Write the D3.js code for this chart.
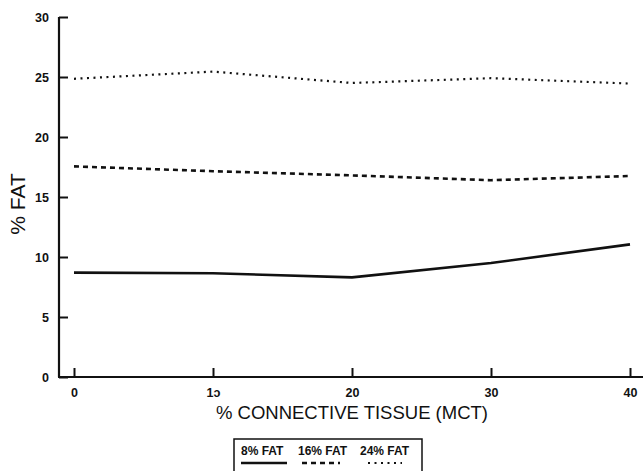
<!DOCTYPE html>
<html>
<head>
<meta charset="utf-8">
<script src="https://cdn.jsdelivr.net/npm/d3@7"></script>
<style>
  html, body { margin: 0; padding: 0; background: #fff; }
  svg { display: block; }
  text { font-family: "Liberation Sans", Arial, Helvetica, sans-serif; fill: #111; }
</style>
</head>
<body>
<svg id="chart" width="643" height="471"></svg>
<script>
// Connective tissue content (%) on the x axis
const connectiveTissue = [0, 10, 20, 30, 40];

// Measured % fat for each formulation
const fat8 = [8.7, 8.65, 8.3, 9.5, 11.05];
const fat16 = [17.55, 17.15, 16.8, 16.4, 16.75];
const fat24 = [24.85, 25.45, 24.5, 24.9, 24.45];

const xTicks = [0, 10, 20, 30, 40];
const xTickLabels = ["0", "1\u0254", "20", "30", "40"];
const yTicks = [0, 5, 10, 15, 20, 25, 30];

const seriesNames = ["8% FAT", "16% FAT", "24% FAT"];

const svg = d3.select("#chart");
const ink = "#111";

const x = d3.scaleLinear().domain([0, 40]).range([74, 630]);
const y = d3.scaleLinear().domain([0, 30]).range([377, 17]);

// Y axis: vertical rule with inward ticks
const yAxis = d3.axisRight(y)
  .tickValues(yTicks)
  .tickSize(9)
  .tickSizeOuter(0);
const gy = svg.append("g").attr("transform", "translate(59,0)").call(yAxis);
gy.select(".domain").attr("stroke", ink).attr("stroke-width", 2.2).attr("d", `M0,${y(30)}V${y(0)}`);
gy.selectAll(".tick line").attr("stroke", ink).attr("stroke-width", 2);
gy.selectAll(".tick text")
  .attr("text-anchor", "end")
  .attr("x", -10)
  .style("font-size", "12.5px")
  .style("font-weight", "bold")
  .attr("fill", ink);

// X axis: horizontal rule with upward ticks
const xAxis = d3.axisTop(x)
  .tickValues(xTicks)
  .tickFormat((d, i) => xTickLabels[i])
  .tickSize(9)
  .tickSizeOuter(0);
const gx = svg.append("g").attr("transform", `translate(0,${y(0)})`).call(xAxis);
gx.select(".domain").attr("stroke", ink).attr("stroke-width", 2.2).attr("d", "M58,0H643");
gx.selectAll(".tick line").attr("stroke", ink).attr("stroke-width", 2);
gx.selectAll(".tick text")
  .attr("y", 16)
  .attr("dy", "0.32em")
  .style("font-size", "12.5px")
  .style("font-weight", "bold")
  .attr("fill", ink);

// Axis titles
svg.append("text")
  .attr("transform", "translate(25,204) rotate(-90)")
  .attr("text-anchor", "middle")
  .style("font-size", "21px")
  .text("% FAT");

svg.append("text")
  .attr("x", 352)
  .attr("y", 419)
  .attr("text-anchor", "middle")
  .style("font-size", "18.5px")
  .text("% CONNECTIVE TISSUE (MCT)");

// Series lines
const line = d3.line()
  .x((d, i) => x(connectiveTissue[i]))
  .y(d => y(d));

const styles = [
  { data: fat8, dash: null, width: 2.6 },
  { data: fat16, dash: "5,4", width: 2.6 },
  { data: fat24, dash: "2,4.5", width: 2.2 }
];

svg.append("g").selectAll("path")
  .data(styles)
  .join("path")
  .attr("d", s => line(s.data))
  .attr("fill", "none")
  .attr("stroke", ink)
  .attr("stroke-width", s => s.width)
  .attr("stroke-dasharray", s => s.dash);

// Legend box
const legend = svg.append("g").attr("transform", "translate(234,439)");
legend.append("rect")
  .attr("x", 0).attr("y", 0)
  .attr("width", 188).attr("height", 40)
  .attr("fill", "#fff")
  .attr("stroke", ink)
  .attr("stroke-width", 1.5);

const legendX = [7, 64, 126];
const sampleX = [[7, 53], [68, 106], [134, 168]];
seriesNames.forEach((name, i) => {
  legend.append("text")
    .attr("x", legendX[i])
    .attr("y", 16)
    .style("font-size", "12px")
    .style("font-weight", "bold")
    .text(name);
  legend.append("line")
    .attr("x1", sampleX[i][0])
    .attr("x2", sampleX[i][1])
    .attr("y1", 24).attr("y2", 24)
    .attr("stroke", ink)
    .attr("stroke-width", styles[i].width)
    .attr("stroke-dasharray", styles[i].dash);
});
</script>
</body>
</html>
